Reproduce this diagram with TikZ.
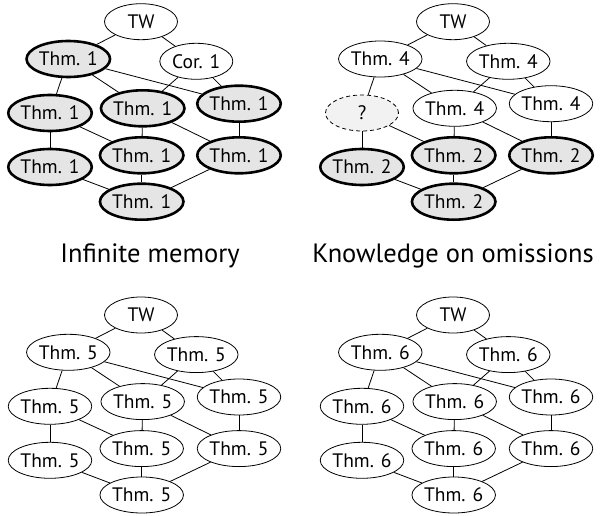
\documentclass[tikz,border=0pt]{standalone}
\usepackage{fontspec}
\setmainfont{PT Sans}
\usetikzlibrary{shapes.geometric}

\tikzset{
  res/.style={ellipse, draw, line width=0.8pt, fill=white, minimum width=73pt,
    minimum height=36pt, inner sep=0pt, font=\fontsize{19.5}{19.5}\selectfont},
  proved/.style={res, line width=2.6pt, fill=black!10},
  unknown/.style={res, dash pattern=on 4pt off 3pt, fill=black!5},
  link/.style={line width=0.8pt},
  caption/.style={anchor=base, font=\fontsize{26.5}{26.5}\selectfont}
}

\begin{document}
\begin{tikzpicture}[x=1pt,y=-1pt]
\path[use as bounding box] (0,0) rectangle (605,516);

% infinite memory
\begin{scope}[shift={(0,0)}]
\node[res]    (atw) at (141,21.7)    {TW};
\node[proved] (al1) at (68.3,59)     {Thm. 1};
\node[res]    (ar1) at (196.3,61.3)  {Cor. 1};
\node[proved] (al2) at (50,113)      {Thm. 1};
\node[proved] (ac2) at (142.7,108.3) {Thm. 1};
\node[proved] (ar2) at (239,103.7)   {Thm. 1};
\node[proved] (al3) at (50,167)      {Thm. 1};
\node[proved] (ac3) at (141.7,155.3) {Thm. 1};
\node[proved] (ar3) at (239,155.3)   {Thm. 1};
\node[proved] (ab)  at (141.7,201.7) {Thm. 1};
\node[caption] (acap) at (150,262) {Infinite memory};
\end{scope}

% knowledge on omissions
\begin{scope}[shift={(312,0)}]
\node[res]     (btw) at (141,21.7)    {TW};
\node[res]     (bl1) at (68.3,59)     {Thm. 4};
\node[res]     (br1) at (196.3,61.3)  {Thm. 4};
\node[unknown] (bl2) at (50,113)      {?};
\node[res]     (bc2) at (142.7,108.3) {Thm. 4};
\node[res]     (br2) at (239,103.7)   {Thm. 4};
\node[proved]  (bl3) at (50,167)      {Thm. 2};
\node[proved]  (bc3) at (141.7,155.3) {Thm. 2};
\node[proved]  (br3) at (239,155.3)   {Thm. 2};
\node[proved]  (bb)  at (141.7,201.7) {Thm. 2};
\node[caption] (bcap) at (141,262) {Knowledge on omissions};
\end{scope}

% bottom left
\begin{scope}[shift={(0,293.3)}]
\node[res] (ctw) at (141,21.7)    {TW};
\node[res] (cl1) at (68.3,59)     {Thm. 5};
\node[res] (cr1) at (196.3,61.3)  {Thm. 5};
\node[res] (cl2) at (50,113)      {Thm. 5};
\node[res] (cc2) at (142.7,108.3) {Thm. 5};
\node[res] (cr2) at (239,103.7)   {Thm. 5};
\node[res] (cl3) at (50,167)      {Thm. 5};
\node[res] (cc3) at (141.7,155.3) {Thm. 5};
\node[res] (cr3) at (239,155.3)   {Thm. 5};
\node[res] (cb)  at (141.7,201.7) {Thm. 5};
\end{scope}

% bottom right
\begin{scope}[shift={(312,293.3)}]
\node[res] (dtw) at (141,21.7)    {TW};
\node[res] (dl1) at (68.3,59)     {Thm. 6};
\node[res] (dr1) at (196.3,61.3)  {Thm. 6};
\node[res] (dl2) at (50,113)      {Thm. 6};
\node[res] (dc2) at (142.7,108.3) {Thm. 6};
\node[res] (dr2) at (239,103.7)   {Thm. 6};
\node[res] (dl3) at (50,167)      {Thm. 6};
\node[res] (dc3) at (141.7,155.3) {Thm. 6};
\node[res] (dr3) at (239,155.3)   {Thm. 6};
\node[res] (db)  at (141.7,201.7) {Thm. 6};
\end{scope}

% same lattice in every panel
\foreach \p in {a,b,c,d}{
  \foreach \u/\v in {tw/l1,tw/r1,l1/l2,l1/c2,l1/r2,r1/c2,r1/r2,l2/l3,l2/c3,
                     c2/c3,c2/r3,r2/r3,l3/b,c3/b,r3/b}
    \draw[link] (\p\u) -- (\p\v);
}
\end{tikzpicture}
\end{document}
